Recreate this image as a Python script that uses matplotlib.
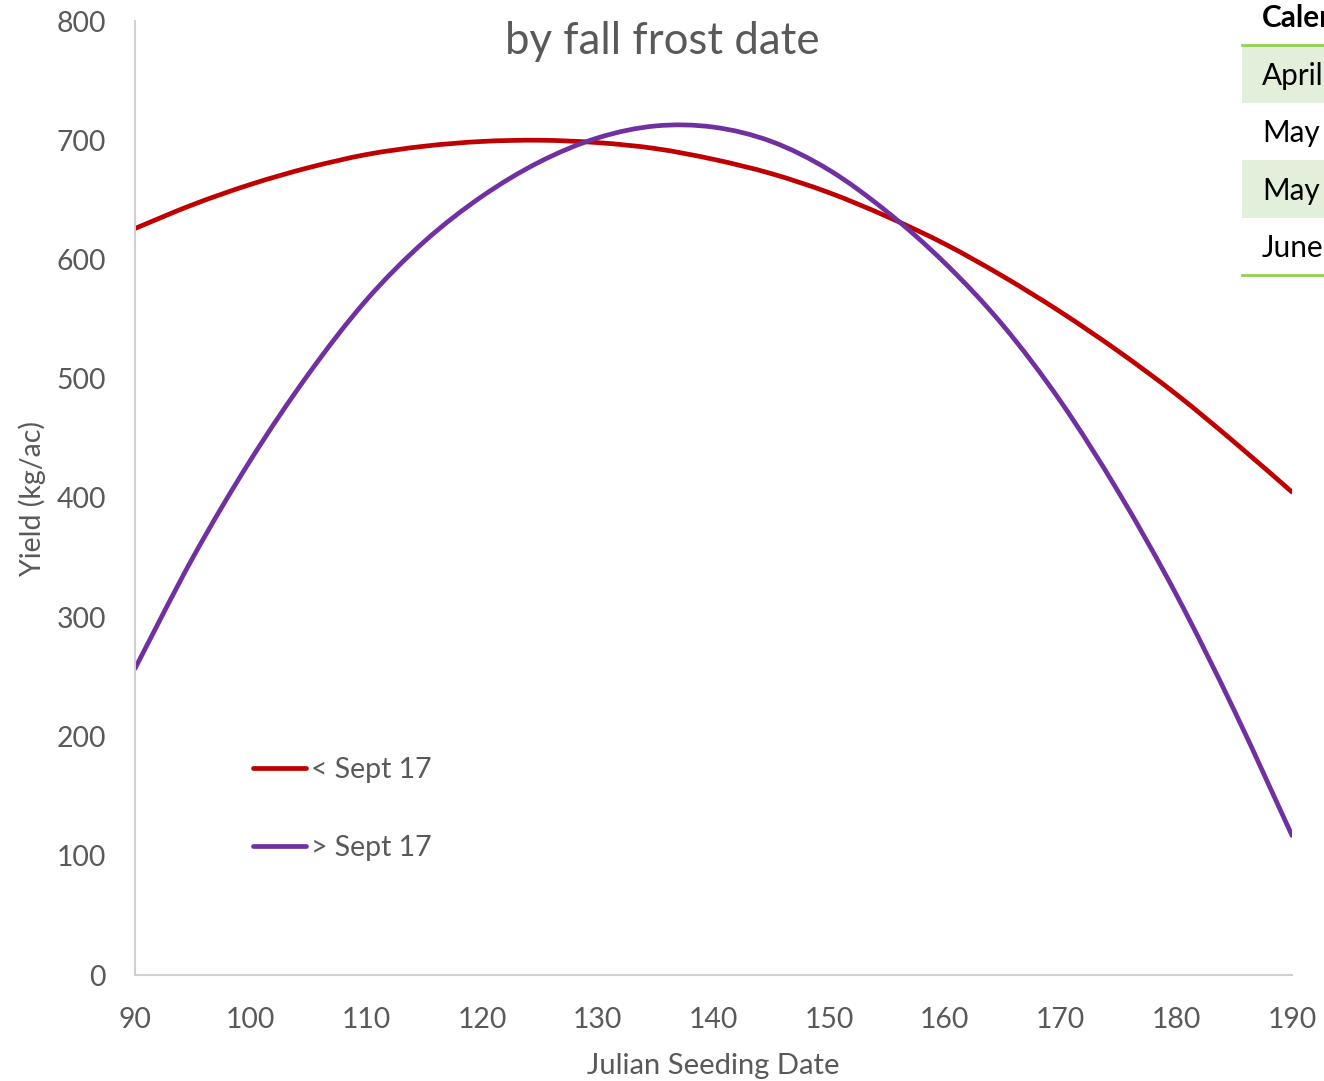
import matplotlib
matplotlib.use("Agg")
import matplotlib.pyplot as plt
from matplotlib.patches import Rectangle, PathPatch
from matplotlib.lines import Line2D
from matplotlib.path import Path

plt.rcParams["font.family"] = ["Lato", "DejaVu Sans"]

# values (every 5 days)
seeding_day = [90, 95, 100, 105, 110, 115, 120, 125, 130, 135, 140,
               145, 150, 155, 160, 165, 170, 175, 180, 185, 190]
yield_before_sept17 = [626, 646, 663, 677, 688, 695, 699, 700, 698, 693, 684,
                       672, 656, 636, 613, 586, 556, 523, 487, 447, 405]
yield_after_sept17 = [257, 350, 432, 504, 566, 615, 653, 682, 702, 712, 711,
                      699, 675, 640, 597, 545, 481, 405, 319, 222, 117]
series_labels = ["< Sept 17", "> Sept 17"]
series_colors = ["#C00000", "#7030A0"]

x_ticks = [90, 100, 110, 120, 130, 140, 150, 160, 170, 180, 190]
y_ticks = [0, 100, 200, 300, 400, 500, 600, 700, 800]

calendar_header = "Calendar"
calendar_rows = ["April", "May", "May", "June"]

GRAY = "#595959"
W, H = 1324, 1081


def smooth_path(xs, ys):
    # smoothed line like a spreadsheet chart: bezier segments through the points
    pts = list(zip(xs, ys))
    verts = [pts[0]]
    codes = [Path.MOVETO]
    n = len(pts)
    for i in range(n - 1):
        p0 = pts[max(i - 1, 0)]
        p1 = pts[i]
        p2 = pts[i + 1]
        p3 = pts[min(i + 2, n - 1)]
        c1 = (p1[0] + (p2[0] - p0[0]) / 6, p1[1] + (p2[1] - p0[1]) / 6)
        c2 = (p2[0] - (p3[0] - p1[0]) / 6, p2[1] - (p3[1] - p1[1]) / 6)
        verts += [c1, c2, p2]
        codes += [Path.CURVE4] * 3
    return Path(verts, codes)


fig = plt.figure(figsize=(W / 100, H / 100), dpi=100)
ax = fig.add_axes([135 / W, 1 - 975 / H, (1292 - 135) / W, (975 - 21) / H])

for ys, col in zip([yield_before_sept17, yield_after_sept17], series_colors):
    ax.add_patch(PathPatch(smooth_path(seeding_day, ys), facecolor="none",
                           edgecolor=col, lw=3.4, capstyle="round",
                           joinstyle="round"))

ax.set_xlim(90, 190)
ax.set_ylim(0, 800)
ax.set_xticks(x_ticks)
ax.set_yticks(y_ticks)
for s in ["top", "right"]:
    ax.spines[s].set_visible(False)
for s in ["left", "bottom"]:
    ax.spines[s].set_color("#D0D0D0")
    ax.spines[s].set_linewidth(1.5)
ax.tick_params(length=0, labelsize=20.4, labelcolor=GRAY)
ax.tick_params(axis="x", pad=23)
ax.tick_params(axis="y", pad=21)

ax.set_xlabel("Julian Seeding Date", fontsize=21, color=GRAY, va="center")
ax.xaxis.set_label_coords(0.5, (975 - 1066) / 954)
ax.set_ylabel("Yield (kg/ac)", fontsize=20.5, color=GRAY, va="center")
ax.yaxis.set_label_coords((32 - 135) / 1157, 0.5)

handles = [Line2D([], [], color=c, lw=3.4, solid_capstyle="round")
           for c in series_colors]
ax.legend(handles, series_labels, loc="upper left",
          bbox_to_anchor=(253 / W, 1 - 757 / H), bbox_transform=fig.transFigure,
          frameon=False, fontsize=20.5, handlelength=1.85, handletextpad=0.2,
          labelspacing=1.82, borderpad=0, borderaxespad=0, labelcolor=GRAY)

fig.text(0.5, 1 - 42 / H, "by fall frost date", ha="center", va="center",
         fontsize=31.5, color=GRAY)

# clipped calendar table at the top right
row_h = 57.5
tab_top = 45
for i, txt in enumerate(calendar_rows):
    top = tab_top + row_h * i
    if i % 2 == 0:
        fig.add_artist(Rectangle((1242 / W, 1 - (top + row_h) / H),
                                 (W - 1242) / W, row_h / H,
                                 transform=fig.transFigure,
                                 facecolor="#E2EFDA", edgecolor="none"))
    fig.text(1262 / W, 1 - (top + row_h / 2 + 2) / H, txt, ha="left",
             va="center", fontsize=21.4, color="black")
for yy in [tab_top, tab_top + row_h * len(calendar_rows)]:
    fig.add_artist(Line2D([1242 / W, 1], [1 - yy / H, 1 - yy / H],
                          transform=fig.transFigure, color="#92D050", lw=2))
fig.text(1262 / W, 1 - 18 / H, calendar_header, ha="left", va="center",
         fontsize=21.4, color="black", fontweight="bold")

fig.savefig("out.png", dpi=100)
